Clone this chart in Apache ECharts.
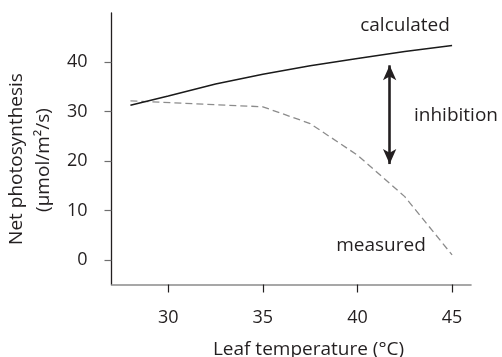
<!DOCTYPE html>
<html>
<head>
<meta charset="utf-8">
<script src="https://cdn.jsdelivr.net/npm/echarts@6/dist/echarts.min.js"></script>
<style>
  html, body { margin: 0; padding: 0; background: #fff; }
  #chart { width: 502px; height: 357px; }
</style>
</head>
<body>
<div id="chart"></div>
<script>
// Leaf temperature (°C) sample points for each curve
const calcTemps = [28, 30, 32.5, 35, 37.5, 40, 42.5, 45];
const calculated = [31.3, 33.2, 35.6, 37.6, 39.3, 40.8, 42.2, 43.4];
const measTemps = [28, 35, 37.5, 40, 42.5, 45];
const measured = [32.2, 31.0, 27.6, 21.2, 12.8, 1.0];

// Gap marker between the two curves (temperature, upper and lower ends)
const inhibitionTemp = 41.7;
const inhibitionTop = 39.4;
const inhibitionBottom = 19.4;

// Tick labels
const xTicks = [30, 35, 40, 45];
const yTicks = [0, 10, 20, 30, 40];

const FONT = '"Open Sans", "Noto Sans", sans-serif';
const INK = '#231f20';

const chart = echarts.init(document.getElementById('chart'), null, { renderer: 'canvas' });

chart.setOption({
  animation: false,
  backgroundColor: '#ffffff',
  grid: { left: 111.5, right: 31, top: 13, bottom: 72.5, containLabel: false },
  xAxis: {
    type: 'value',
    min: 27,
    max: 46,
    splitLine: { show: false },
    axisLine: { show: true, onZero: false, lineStyle: { color: '#8a8a8a', width: 1.6 } },
    axisTick: { show: true, inside: false, length: 8, customValues: xTicks,
      lineStyle: { color: INK, width: 1.2 } },
    axisLabel: { show: true, customValues: xTicks, margin: 24,
      color: INK, fontFamily: FONT, fontSize: 18 }
  },
  yAxis: {
    type: 'value',
    min: -5,
    max: 50,
    splitLine: { show: false },
    axisLine: { show: true, onZero: false, lineStyle: { color: INK, width: 1.3 } },
    axisTick: { show: true, inside: false, length: 7, customValues: yTicks,
      lineStyle: { color: '#6e6e6e', width: 1.2 } },
    axisLabel: { show: true, customValues: yTicks, margin: 24,
      color: INK, fontFamily: FONT, fontSize: 18 }
  },
  series: [
    {
      name: 'calculated',
      type: 'line',
      data: calcTemps.map((t, i) => [t, calculated[i]]),
      symbol: 'none',
      lineStyle: { color: '#1a1a1a', width: 1.5 },
      z: 3
    },
    {
      name: 'measured',
      type: 'line',
      data: measTemps.map((t, i) => [t, measured[i]]),
      symbol: 'none',
      lineStyle: { color: '#8c8c8c', width: 1.3, type: [7, 4] },
      z: 2,
      markLine: {
        silent: true,
        symbol: ['arrow', 'arrow'],
        symbolSize: [10, 15],
        label: { show: false },
        lineStyle: { color: INK, width: 2.6, type: 'solid' },
        data: [[
          { coord: [inhibitionTemp, inhibitionTop] },
          { coord: [inhibitionTemp, inhibitionBottom] }
        ]]
      }
    }
  ],
  graphic: [
    { type: 'text', x: 17, y: 159, rotation: Math.PI / 2,
      style: { text: 'Net photosynthesis', fill: INK, font: '19px ' + FONT,
        align: 'center', verticalAlign: 'middle' } },
    { type: 'text', x: 44, y: 160, rotation: Math.PI / 2,
      style: { text: '(µmol/m²/s)', fill: INK, font: '19px ' + FONT,
        align: 'center', verticalAlign: 'middle' } },
    { type: 'text', x: 308.5, y: 350,
      style: { text: 'Leaf temperature (°C)', fill: INK, font: '19px ' + FONT,
        align: 'center', verticalAlign: 'middle' } },
    { type: 'text', x: 405, y: 26,
      style: { text: 'calculated', fill: INK, font: '19px ' + FONT,
        align: 'center', verticalAlign: 'middle' } },
    { type: 'text', x: 456, y: 116,
      style: { text: 'inhibition', fill: INK, font: '19px ' + FONT,
        align: 'center', verticalAlign: 'middle' } },
    { type: 'text', x: 381, y: 246,
      style: { text: 'measured', fill: INK, font: '19px ' + FONT,
        align: 'center', verticalAlign: 'middle' } }
  ]
});
</script>
</body>
</html>
